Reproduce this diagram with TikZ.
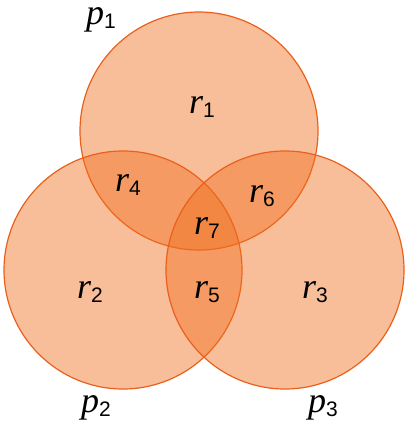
\documentclass[tikz,border=0pt]{standalone}
\usepackage{fontspec}
\setmainfont{Liberation Serif}
\newfontfamily\subsans{Liberation Sans}
\usepackage{tikz}
\usetikzlibrary{positioning}
\definecolor{setfill}{RGB}{240,110,30}
\definecolor{setline}{RGB}{234,96,26}
% italic letter with an upright sans index
\newcommand{\vlab}[2]{{\fontsize{36}{36}\selectfont\itshape #1}\raisebox{-4pt}{\subsans\fontsize{21}{21}\selectfont #2}}

\begin{document}
\begin{tikzpicture}[
    x=1pt, y=-1pt,
    set/.style={circle, draw=setline, line width=1.2pt, fill=setfill, fill opacity=0.45, draw opacity=1, minimum size=238pt, inner sep=0pt},
    region/.style={inner sep=0pt}
]
\useasboundingbox (0,0) rectangle (409,426);

% the three sets
\node[set] (c1) at (199,131) {};
\node[set] (c2) at (123,270) {};
\node[set] (c3) at (285,270) {};

% set names
\node[region] (p1) at (101,20) {\vlab{p}{1}};
\node[region] (p2) at (96,408) {\vlab{p}{2}};
\node[region] (p3) at (323,408) {\vlab{p}{3}};

% regions
\node[region] (r1) at (202,107) {\vlab{r}{1}};
\node[region] (r2) at (90,292) {\vlab{r}{2}};
\node[region] (r3) at (315,292) {\vlab{r}{3}};
\node[region] (r4) at (128,185) {\vlab{r}{4}};
\node[region] (r5) at (207,292) {\vlab{r}{5}};
\node[region] (r6) at (262,196) {\vlab{r}{6}};
\node[region] (r7) at (207,228) {\vlab{r}{7}};

\end{tikzpicture}
\end{document}
